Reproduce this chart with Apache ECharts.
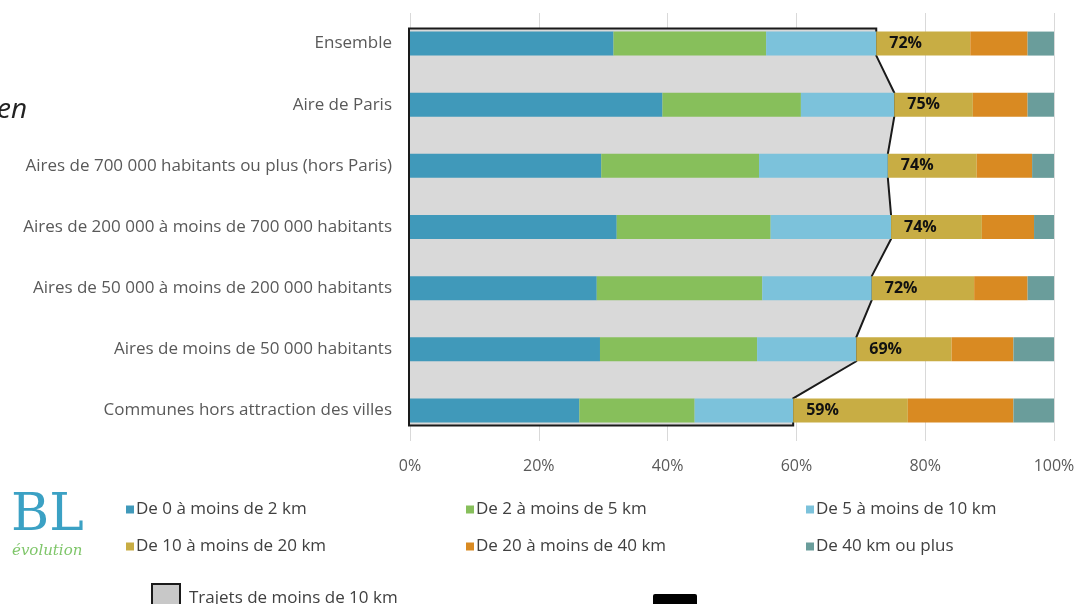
<!DOCTYPE html>
<html><head><meta charset="utf-8">
<script src="https://cdn.jsdelivr.net/npm/echarts@6/dist/echarts.min.js"></script>
<style>html,body{margin:0;padding:0;background:#fff;}#c{width:1075px;height:604px;}</style>
</head><body><div id="c"></div>
<script>
const categories = ["Ensemble","Aire de Paris","Aires de 700 000 habitants ou plus (hors Paris)","Aires de 200 000 à moins de 700 000 habitants","Aires de 50 000 à moins de 200 000 habitants","Aires de moins de 50 000 habitants","Communes hors attraction des villes"];
const seriesNames = ["De 0 à moins de 2 km","De 2 à moins de 5 km","De 5 à moins de 10 km","De 10 à moins de 20 km","De 20 à moins de 40 km","De 40 km ou plus"];
const s0_2   = [31.6, 39.2, 29.7, 32.1, 29.0, 29.5, 26.3];
const s2_5   = [23.7, 21.5, 24.5, 23.9, 25.7, 24.4, 17.9];
const s5_10  = [17.1, 14.5, 20.0, 18.7, 17.0, 15.4, 15.3];
const s10_20 = [14.6, 12.2, 13.8, 14.1, 15.9, 14.8, 17.8];
const s20_40 = [8.9, 8.5, 8.6, 8.1, 8.3, 9.6, 16.4];
const s40p   = [4.1, 4.1, 3.4, 3.1, 4.1, 6.3, 6.3];
const shortTripLabels = [72, 75, 74, 74, 72, 69, 59];
const xTicks = [0, 20, 40, 60, 80, 100];
const shortName = "Trajets de moins de 10 km";
const colors = ["#4099ba","#87bf5b","#7cc2db","#c8ad44","#d98a22","#6a9d9b"];

const values = [s0_2, s2_5, s5_10, s10_20, s20_40, s40p];
const cum10 = categories.map((c, i) => s0_2[i] + s2_5[i] + s5_10[i]);

const chart = echarts.init(document.getElementById('c'));
const FONT = "'Open Sans', sans-serif";
const barSeries = seriesNames.map((n, k) => ({
  name: n, type: 'bar', stack: 'total', barWidth: 24, z: 3,
  itemStyle: { color: colors[k] },
  data: values[k],
  label: k === 3 ? {
    show: true, position: 'insideLeft', distance: 13,
    formatter: p => shortTripLabels[p.dataIndex] + '%',
    color: '#111', fontWeight: 'bold', fontSize: 16, fontFamily: FONT
  } : { show: false }
}));

const polySeries = {
  name: shortName, type: 'custom', z: 2,
  itemStyle: { color: '#d9d9d9', borderColor: '#1a1a1a', borderWidth: 2 },
  data: [[0, 0]],
  renderItem: function (params, api) {
    const half = 12;
    const pts = [];
    const n = categories.length;
    for (let i = 0; i < n; i++) {
      const p = api.coord([cum10[i], i]);
      const extraTop = i === 0 ? 3 : 0;
      const extraBot = i === n - 1 ? 3 : 0;
      pts.push([p[0], p[1] - half - extraTop]);
      pts.push([p[0], p[1] + half + extraBot]);
    }
    const b = api.coord([0, n - 1]);
    const t = api.coord([0, 0]);
    pts.push([b[0] - 1, b[1] + half + 3]);
    pts.push([t[0] - 1, t[1] - half - 3]);
    return {
      type: 'polygon', shape: { points: pts },
      style: { fill: '#d9d9d9', stroke: '#1a1a1a', lineWidth: 2 }
    };
  }
};

function legendAt(name, left, top) {
  return {
    left: left, top: top, orient: 'horizontal', icon: 'rect',
    itemWidth: 8, itemHeight: 8, itemGap: 4, selectedMode: false,
    data: [name],
    textStyle: { color: '#404040', fontSize: 17, fontFamily: FONT, padding: [0, 0, 0, -3] }
  };
}

const legends = [
  legendAt(seriesNames[0], 121, 496),
  legendAt(seriesNames[1], 461, 496),
  legendAt(seriesNames[2], 801, 496),
  legendAt(seriesNames[3], 121, 533),
  legendAt(seriesNames[4], 461, 533),
  legendAt(seriesNames[5], 801, 533),
  {
    left: 146, top: 578, icon: 'rect', itemWidth: 28, itemHeight: 28, itemGap: 10, selectedMode: false,
    data: [{ name: shortName, itemStyle: { color: '#c8c8c8', borderColor: '#1a1a1a', borderWidth: 2 } }],
    textStyle: { color: '#404040', fontSize: 17, fontFamily: FONT, padding: [0, 0, 0, 4] }
  }
];

chart.setOption({
  animation: false,
  backgroundColor: '#fff',
  textStyle: { fontFamily: FONT },
  grid: { left: 410, right: 21, top: 13, height: 428, containLabel: false, outerBoundsMode: 'none' },
  xAxis: {
    type: 'value', min: 0, max: 100, interval: 20,
    axisLine: { show: false }, axisTick: { show: false },
    splitLine: { show: true, lineStyle: { color: '#d9d9d9', width: 1 } },
    axisLabel: { formatter: v => xTicks.includes(v) ? v + '%' : '', color: '#595959', fontSize: 16, margin: 17, fontFamily: FONT }
  },
  yAxis: {
    type: 'category', data: categories, inverse: true,
    axisLine: { show: false }, axisTick: { show: false },
    axisLabel: { color: '#595959', fontSize: 17, margin: 18, fontFamily: FONT }
  },
  legend: legends,
  series: [polySeries].concat(barSeries),
  graphic: [
    { type: 'text', left: -3, top: 96, style: { text: 'en', font: 'italic 28px "Open Sans", sans-serif', fill: '#222' } },
    { type: 'text', left: 11, top: 490, style: { text: 'BL', font: '52px "DejaVu Serif", serif', fill: '#3ba1c4' } },
    { type: 'text', left: 12, top: 544, style: { text: 'évolution', font: 'italic 15px "DejaVu Serif", serif', fill: '#7fc66a' } },
    { type: 'rect', shape: { x: 653, y: 594, width: 44, height: 14, r: 2 }, style: { fill: '#000' } }
  ]
});
</script></body></html>
